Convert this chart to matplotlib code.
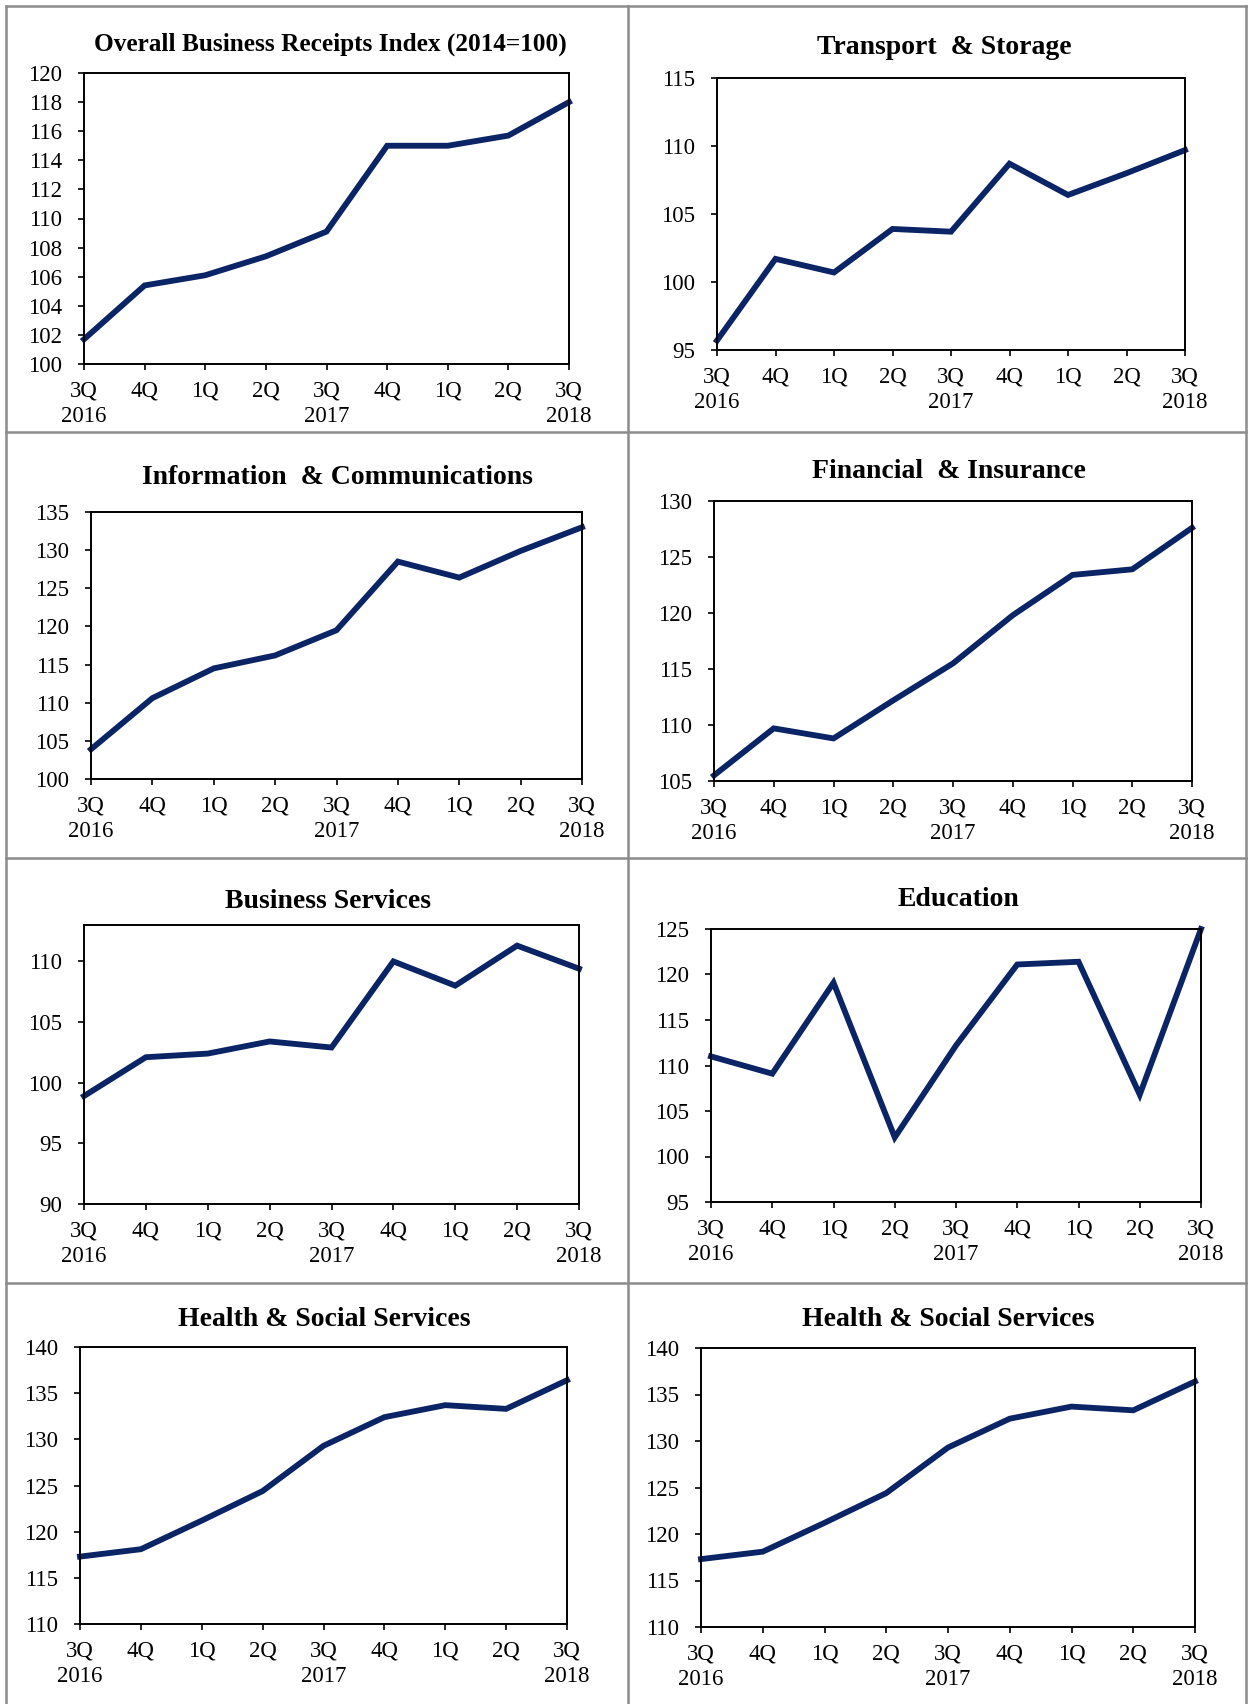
import matplotlib
matplotlib.use("Agg")
import matplotlib.pyplot as plt
from matplotlib.lines import Line2D

plt.rcParams['font.family'] = ['Liberation Serif', 'DejaVu Serif']

# ---- data ----
quarters = ["3Q\n2016", "4Q", "1Q", "2Q", "3Q\n2017", "4Q", "1Q", "2Q", "3Q\n2018"]

overall = [101.7, 105.4, 106.1, 107.4, 109.1, 115.0, 115.0, 115.7, 118.0]
transport = [95.7, 101.7, 100.7, 103.9, 103.7, 108.7, 106.4, 108.0, 109.7]
info_comm = [103.9, 110.6, 114.5, 116.2, 119.5, 128.5, 126.4, 129.9, 133.0]
financial = [105.5, 109.7, 108.8, 112.2, 115.5, 119.8, 123.4, 123.9, 127.6]
business = [98.9, 102.1, 102.4, 103.4, 102.9, 110.0, 108.0, 111.3, 109.4]
education = [111.0, 109.1, 119.1, 102.1, 112.2, 121.1, 121.4, 106.8, 125.0]
health = [117.3, 118.1, 121.2, 124.4, 129.3, 132.4, 133.7, 133.3, 136.4]

titles = ["Overall Business Receipts Index (2014=100)", "Transport  & Storage",
          "Information  & Communications", "Financial  & Insurance",
          "Business Services", "Education",
          "Health & Social Services", "Health & Social Services"]
series = [overall, transport, info_comm, financial, business, education, health, health]
ylims = [(100, 120), (95, 115), (100, 135), (105, 130), (90, 113), (95, 125), (110, 140), (110, 140)]
ysteps = [2, 5, 5, 5, 5, 5, 5, 5]

# layout in pixels: axes (left, top, right, bottom), title centre (x, y)
W, H = 1248, 1704
axes_px = [(84, 73, 569, 364), (717, 78, 1185, 350),
           (91, 512, 582, 779), (714, 501, 1192, 781),
           (84, 925, 579, 1204), (711, 929, 1201, 1202),
           (80, 1347, 567, 1624), (701, 1348, 1195, 1627)]
title_px = [(330, 44), (944, 48), (337, 478), (949, 471),
            (328, 901), (958, 899), (324, 1320), (948, 1320)]
title_size = [18.2, 20, 20, 20, 20, 20, 20, 20]

LINE = "#0a2466"

fig = plt.figure(figsize=(12.48, 17.04), dpi=100)

for i in range(8):
    l, t, r, b = axes_px[i]
    ax = fig.add_axes([l / W, 1 - b / H, (r - l) / W, (b - t) / H])
    x = list(range(len(quarters)))
    ax.plot(x, series[i], color=LINE, lw=4.2, solid_joinstyle='miter', clip_on=False)
    lo, hi = ylims[i]
    ax.set_ylim(lo, hi)
    ax.set_xlim(0, len(quarters) - 1)
    ticks = list(range(lo, hi + 1, ysteps[i]))
    ax.set_yticks(ticks)
    ax.set_xticks(x)
    ax.set_xticklabels(quarters, linespacing=1.3)
    ax.tick_params(axis='both', direction='out', length=4, width=1.2,
                   labelsize=16.5, colors='black')
    ax.tick_params(axis='y', pad=12)
    ax.tick_params(axis='x', pad=8)
    for s in ax.spines.values():
        s.set_linewidth(1.4)
    tx, ty = title_px[i]
    fig.text(tx / W, 1 - ty / H, titles[i], ha='center', va='center',
             fontsize=title_size[i], fontweight='bold')

# panel grid lines
grey = "#8c8c8c"
for xx in [6, 628, 1246]:
    fig.add_artist(Line2D([xx / W, xx / W], [0, 1 - 6 / H], color=grey, lw=1.8))
for yy in [6, 432, 858, 1283]:
    fig.add_artist(Line2D([6 / W, 1246 / W], [1 - yy / H, 1 - yy / H], color=grey, lw=1.8))

fig.savefig("out.png", dpi=100, facecolor='white')
